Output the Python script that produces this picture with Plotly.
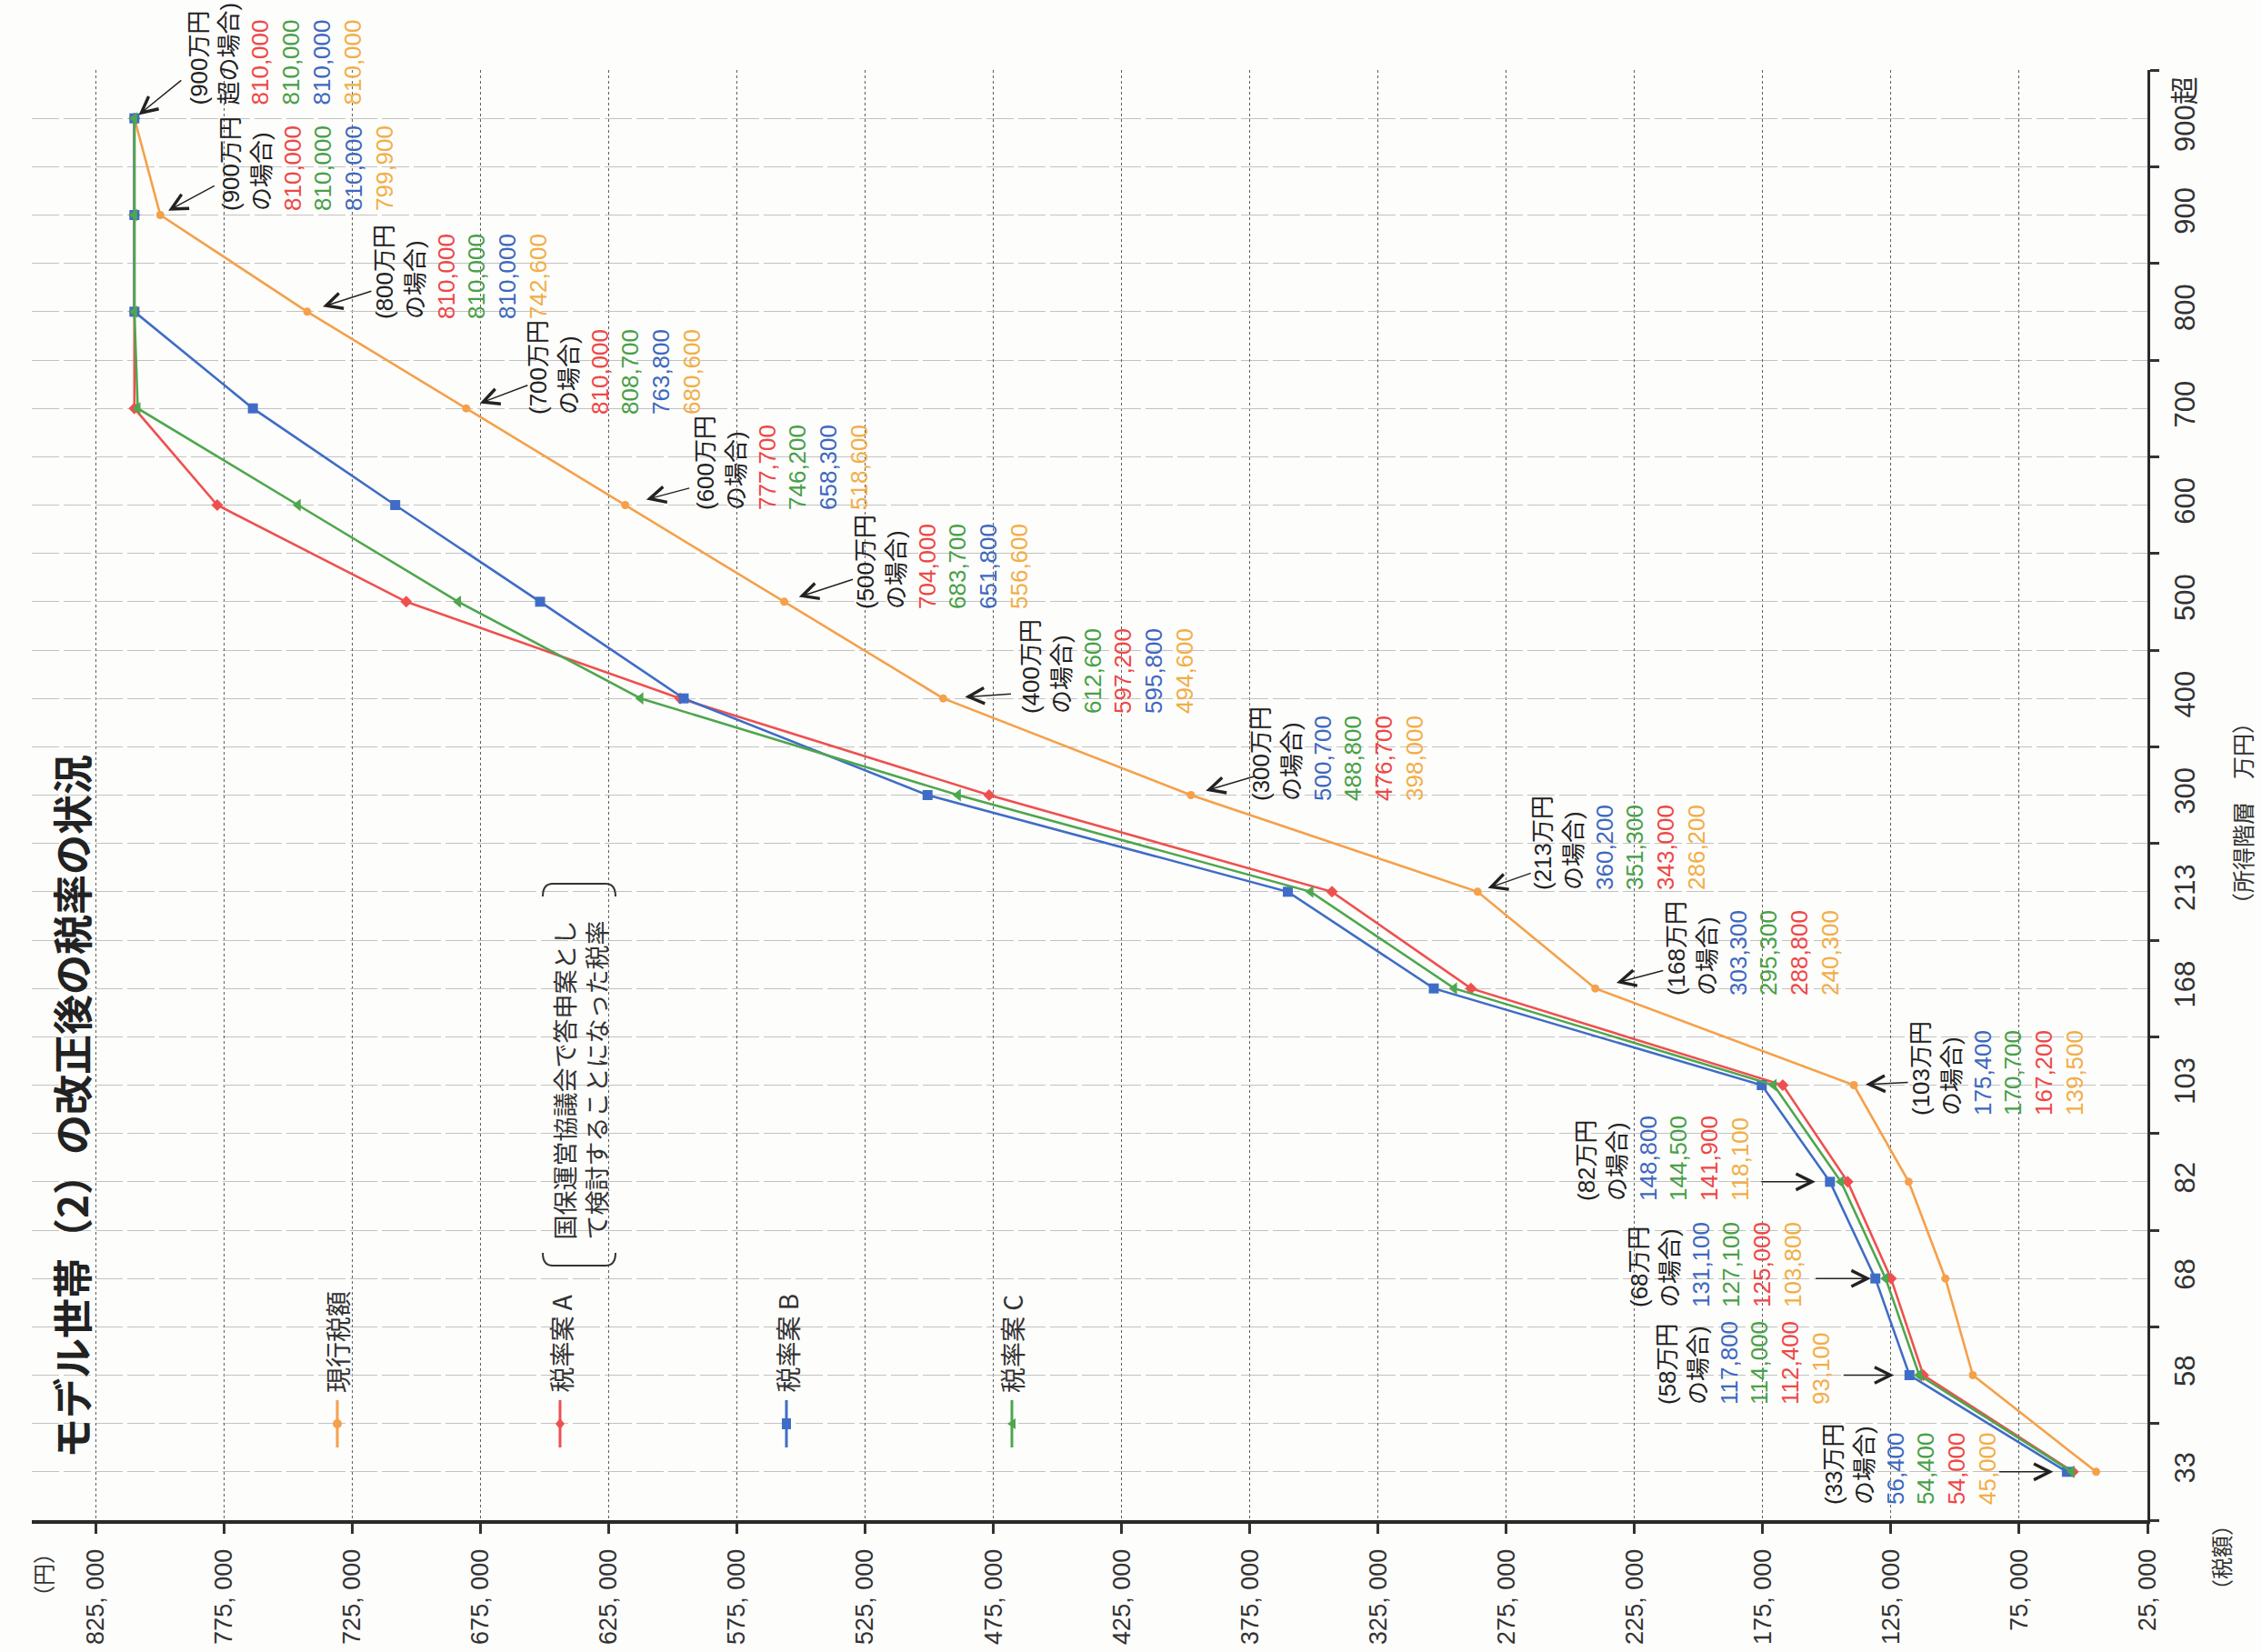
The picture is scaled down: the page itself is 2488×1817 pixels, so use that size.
import plotly.graph_objects as go

# ---------------- data ----------------
categories = ["33", "58", "68", "82", "103", "168", "213", "300", "400", "500",
              "600", "700", "800", "900", "900超"]
current_tax = [45000, 93100, 103800, 118100, 139500, 240300, 286200, 398000, 494600,
               556600, 618600, 680600, 742600, 799900, 810000]
plan_a = [54000, 112400, 125000, 141900, 167200, 288800, 343000, 476700, 597200,
          704000, 777700, 810000, 810000, 810000, 810000]
plan_b = [56400, 117800, 131100, 148800, 175400, 303300, 360200, 500700, 595800,
          651800, 708300, 763800, 810000, 810000, 810000]
plan_c = [54400, 114000, 127100, 144500, 170700, 295300, 351300, 488800, 612600,
          683700, 746200, 808700, 810000, 810000, 810000]
series_names = ["現行税額", "税率案 A", "税率案 B", "税率案 C"]
x_tick_values = [25000, 75000, 125000, 175000, 225000, 275000, 325000, 375000, 425000,
                 475000, 525000, 575000, 625000, 675000, 725000, 775000, 825000]
x_tick_labels = ["25, 000", "75, 000", "125, 000", "175, 000", "225, 000", "275, 000",
                 "325, 000", "375, 000", "425, 000", "475, 000", "525, 000", "575, 000",
                 "625, 000", "675, 000", "725, 000", "775, 000", "825, 000"]
# labels exactly as printed in the source (two of them differ from the plotted points)
printed_overrides = {("B", "600"): "658,300", ("CUR", "600"): "518,600"}

title_text = "モデル世帯（2）の改正後の税率の状況"
note_text = "国保運営協議会で答申案とし<br>て検討することになった税率"

# ---------------- styles ----------------
COL = {"CUR": "#F5A04A", "A": "#EE5050", "B": "#3F6CC6", "C": "#4EA64E"}
TXT = {"CUR": "#F2AE48", "A": "#EE4848", "B": "#3E68C0", "C": "#48A048"}
FONT = "Liberation Sans, Arial, Noto Sans CJK JP, sans-serif"
JFONT = "Noto Sans CJK JP, sans-serif"

W, H = 2488, 1817
L, R, T, B = 35, 2362, 77, 1672


def px(x):
    return (x - L) / (R - L)


def py(y):
    return (B - y) / (B - T)


ypos = list(range(len(categories)))
series = {"CUR": current_tax, "A": plan_a, "B": plan_b, "C": plan_c}

fig = go.Figure()
marker_style = {
    "CUR": dict(symbol="circle", size=9),
    "A": dict(symbol="diamond", size=10),
    "B": dict(symbol="square", size=11),
    "C": dict(symbol="triangle-left", size=12),
}
for key, name in zip(["CUR", "A", "B", "C"], series_names):
    fig.add_trace(go.Scatter(
        x=series[key], y=ypos, mode="lines+markers", name=name,
        line=dict(color=COL[key], width=2.6),
        marker=dict(color=COL[key], **marker_style[key]),
        cliponaxis=False,
    ))

# ---------------- value label blocks ----------------
block_pos = {  # centre x (px), bottom y (px)
    "900超": (303, 118), "900": (338, 234), "800": (507, 353), "700": (676, 458),
    "600": (860, 563), "500": (1037, 672), "400": (1218, 787), "300": (1471, 883),
    "213": (1781, 981), "168": (1928, 1097), "103": (2197, 1229), "82": (1829, 1323),
    "68": (1887, 1440), "58": (1918, 1547), "33": (2101, 1657),
}
annotations = []
order_keys = ["A", "C", "B", "CUR"]
for i, cat in enumerate(categories):
    if cat == "900超":
        head = "(900万円<br>超の場合)"
    else:
        head = f"({cat}万円<br>の場合)"
    vals = sorted(order_keys, key=lambda k: -series[k][i])
    lines = []
    for k in vals:
        t = printed_overrides.get((k, cat), f"{series[k][i]:,}")
        lines.append(f'<span style="color:{TXT[k]}">{t}</span>')
    cx, by = block_pos[cat]
    annotations.append(dict(
        text=head + "<br>" + "<br>".join(lines), textangle=-90,
        xref="paper", yref="paper", x=px(cx), y=py(by),
        xanchor="center", yanchor="bottom", align="left", showarrow=False,
        font=dict(size=26, color="#222", family=FONT),
    ))

# ---------------- arrows (tail offsets in px relative to the target point) ----------------
arrow_spec = {
    "900超": ("CUR", 53, -43, 6), "900": ("CUR", 61, -33, 10), "800": ("CUR", 72, -23, 18),
    "700": ("CUR", 69, -26, 16), "600": ("CUR", 72, -19, 24), "500": ("CUR", 77, -25, 17),
    "400": ("CUR", 76, -5, 24), "300": ("CUR", 71, -21, 17), "213": ("CUR", 60, -21, 12),
    "168": ("CUR", 76, -20, 24), "103": ("CUR", 61, -3, 13), "82": ("B", -77, 0, 16),
    "68": ("B", -67, 0, 5), "58": ("B", -74, 0, 17), "33": ("B", -76, 0, 15),
}
for i, cat in enumerate(categories):
    k, ax, ay, so = arrow_spec[cat]
    annotations.append(dict(
        x=series[k][i], y=ypos[i], xref="x", yref="y", text="", showarrow=True,
        ax=ax, ay=ay, axref="pixel", ayref="pixel", arrowhead=5, arrowsize=2.3,
        arrowwidth=1.5, arrowcolor="#222", standoff=so,
    ))

# ---------------- title, axis titles ----------------
annotations += [
    dict(text=f"<b>{title_text}</b>", textangle=-90, xref="paper", yref="paper",
         x=px(78), y=py(1217), xanchor="center", yanchor="middle", showarrow=False,
         font=dict(size=44, color="#222", family=JFONT)),
    dict(text="（円）", textangle=-90, xref="paper", yref="paper", x=px(46), y=py(1732),
         xanchor="center", yanchor="middle", showarrow=False,
         font=dict(size=24, color="#333", family=JFONT)),
    dict(text="（税額）", textangle=-90, xref="paper", yref="paper", x=px(2442), y=py(1713),
         xanchor="center", yanchor="middle", showarrow=False,
         font=dict(size=24, color="#333", family=JFONT)),
    dict(text="（所得階層　万円）", textangle=-90, xref="paper", yref="paper", x=px(2466),
         y=py(895), xanchor="center", yanchor="middle", showarrow=False,
         font=dict(size=25, color="#333", family=JFONT)),
    dict(text=note_text, textangle=-90, xref="paper", yref="paper", x=px(637), y=py(1366),
         xanchor="center", yanchor="bottom", align="left", showarrow=False,
         font=dict(size=27, color="#333", family=JFONT)),
]

# ---------------- manual (rotated) legend ----------------
shapes = []
legend_x = {"CUR": 371, "A": 616, "B": 865, "C": 1113}
for key, name in zip(["CUR", "A", "B", "C"], series_names):
    lx = legend_x[key]
    shapes.append(dict(type="line", xref="paper", yref="paper", x0=px(lx), x1=px(lx),
                       y0=py(1540), y1=py(1592), line=dict(color=COL[key], width=3)))
    my = 1566
    if key == "CUR":
        shapes.append(dict(type="circle", xref="paper", yref="paper", x0=px(lx - 5), x1=px(lx + 5),
                           y0=py(my + 5), y1=py(my - 5), fillcolor=COL[key], line=dict(width=0)))
    elif key == "A":
        p = f"M {px(lx)},{py(my-6)} L {px(lx+5)},{py(my)} L {px(lx)},{py(my+6)} L {px(lx-5)},{py(my)} Z"
        shapes.append(dict(type="path", xref="paper", yref="paper", path=p,
                           fillcolor=COL[key], line=dict(width=0)))
    elif key == "B":
        shapes.append(dict(type="rect", xref="paper", yref="paper", x0=px(lx - 5), x1=px(lx + 5),
                           y0=py(my + 6), y1=py(my - 6), fillcolor=COL[key], line=dict(width=0)))
    else:
        p = f"M {px(lx-5)},{py(my)} L {px(lx+4)},{py(my-6)} L {px(lx+4)},{py(my+6)} Z"
        shapes.append(dict(type="path", xref="paper", yref="paper", path=p,
                           fillcolor=COL[key], line=dict(width=0)))
    annotations.append(dict(text=name, textangle=-90, xref="paper", yref="paper",
                            x=px(lx), y=py(1534), xanchor="center", yanchor="bottom",
                            showarrow=False, font=dict(size=28, color="#333", family=JFONT)))

# brackets around the note
def bpath(y_line, y_end):
    return (f"M {px(597)},{py(y_end)} Q {px(597)},{py(y_line)} {px(608)},{py(y_line)} "
            f"L {px(666)},{py(y_line)} Q {px(677)},{py(y_line)} {px(677)},{py(y_end)}")


shapes.append(dict(type="path", xref="paper", yref="paper", path=bpath(1392, 1378),
                   line=dict(color="#333", width=2)))
shapes.append(dict(type="path", xref="paper", yref="paper", path=bpath(972, 986),
                   line=dict(color="#333", width=2)))

grid_v = "#5e5e5e"
grid_h = "#c2c2c2"
fig.update_layout(
    width=W, height=H,
    margin=dict(l=L, r=W - R, t=T, b=H - B, autoexpand=False),
    paper_bgcolor="#FDFDFB", plot_bgcolor="#FDFDFB",
    showlegend=False,
    font=dict(family=FONT, color="#333"),
    annotations=annotations, shapes=shapes,
    xaxis=dict(
        range=[850000, 25000], tickmode="array", tickvals=x_tick_values, ticktext=x_tick_labels,
        tickangle=-90, ticks="outside", ticklen=11, tickwidth=2.5, tickcolor="#333",
        tickfont=dict(size=27, color="#333"), showline=True, linewidth=4, linecolor="#2a2a2a",
        showgrid=True, gridcolor=grid_v, griddash="dot", gridwidth=1.2, zeroline=False,
        ticklabelstandoff=6,
    ),
    yaxis=dict(
        range=[-0.5, len(categories) - 0.5], side="right", tickmode="array", tickvals=ypos,
        ticktext=categories, tickangle=-90, ticks="", tickfont=dict(size=31, color="#333"),
        showline=True, linewidth=3, linecolor="#2a2a2a", zeroline=False,
        showgrid=True, gridcolor=grid_h, griddash="30px,5px", gridwidth=1.4,
        ticklabelstandoff=12,
        minor=dict(tick0=0.5, dtick=1, ticks="outside", ticklen=10, tickwidth=3,
                   tickcolor="#333", showgrid=True, gridcolor=grid_h, griddash="30px,5px",
                   gridwidth=1.4),
    ),
)

fig.write_html("out.html")
